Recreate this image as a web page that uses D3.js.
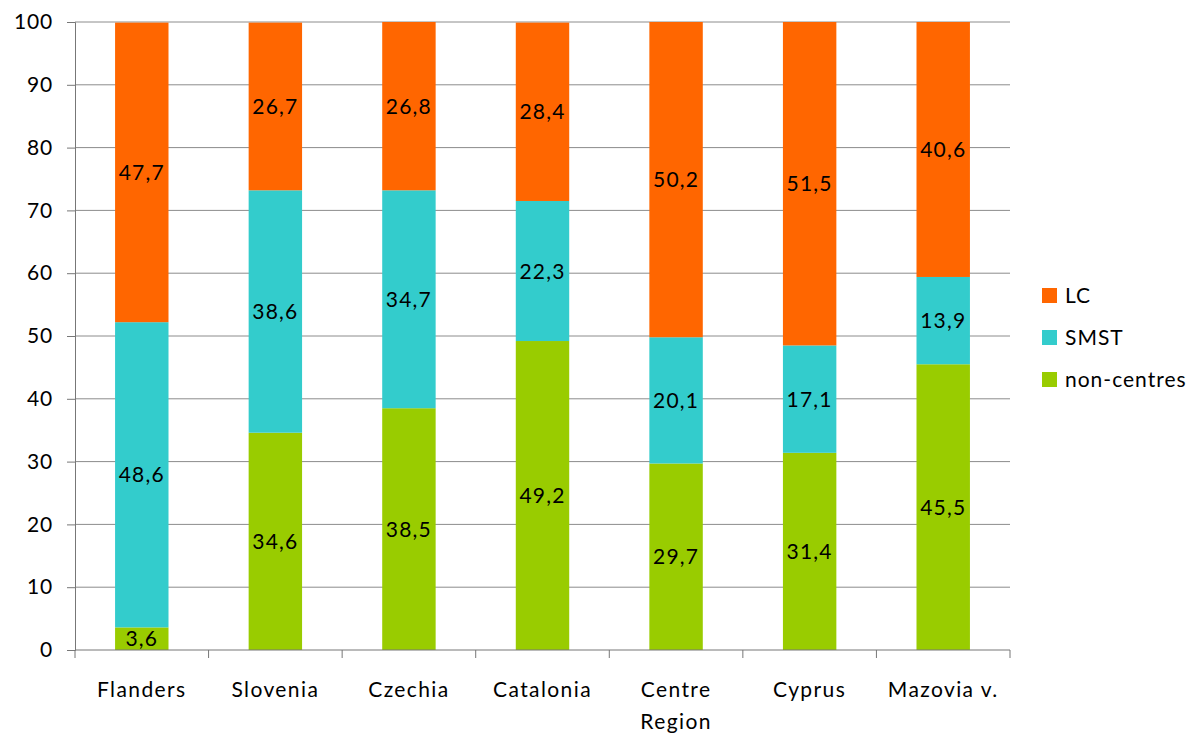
<!DOCTYPE html>
<html>
<head>
<meta charset="utf-8">
<script src="https://cdn.jsdelivr.net/npm/d3@7"></script>
<style>
  html, body { margin: 0; padding: 0; background: #fff; }
  svg { display: block; font-family: Lato, "Open Sans", sans-serif; }
</style>
</head>
<body>
<svg id="chart" width="1194" height="734"></svg>
<script>
// Regions and shares of each settlement type (percent)
const regions = ["Flanders", "Slovenia", "Czechia", "Catalonia", "Centre Region", "Cyprus", "Mazovia v."];
const nonCentres = [3.6, 34.6, 38.5, 49.2, 29.7, 31.4, 45.5];
const smst = [48.6, 38.6, 34.7, 22.3, 20.1, 17.1, 13.9];
const lc = [47.7, 26.7, 26.8, 28.4, 50.2, 51.5, 40.6];
const seriesNames = ["non-centres", "SMST", "LC"];
const seriesColors = ["#99CC00", "#33CCCC", "#FF6600"];
const yTicks = [0, 10, 20, 30, 40, 50, 60, 70, 80, 90, 100];

const rows = regions.map((r, i) => ({ region: r, "non-centres": nonCentres[i], "SMST": smst[i], "LC": lc[i] }));
const stacked = d3.stack().keys(seriesNames)(rows);

const svg = d3.select("#chart");
const plotLeft = 75, plotRight = 1010, plotTop = 22, plotBottom = 650;

const x = d3.scaleBand().domain(regions).range([plotLeft, plotRight]).paddingInner(0.6).paddingOuter(0.3);
const xb = d3.scaleBand().domain(regions).range([plotLeft, plotRight]);
const y = d3.scaleLinear().domain([0, 100]).range([plotBottom, plotTop]);
const color = d3.scaleOrdinal().domain(seriesNames).range(seriesColors);

// Horizontal gridlines
svg.append("g").selectAll("line").data(yTicks.filter(t => t > 0)).join("line")
  .attr("x1", plotLeft).attr("x2", plotRight)
  .attr("y1", d => y(d)).attr("y2", d => y(d))
  .attr("stroke", "#8c8c8c").attr("stroke-width", 1);

// Stacked bars
const layers = svg.append("g").selectAll("g").data(stacked).join("g")
  .attr("fill", d => color(d.key));
layers.selectAll("rect").data(d => d).join("rect")
  .attr("x", d => x(d.data.region))
  .attr("width", x.bandwidth())
  .attr("y", d => y(d[1]))
  .attr("height", d => y(d[0]) - y(d[1]));

// Value labels inside segments
const labels = svg.append("g").attr("font-size", 21).attr("fill", "#000").attr("text-anchor", "middle");
stacked.forEach(s => {
  labels.selectAll(null).data(s).join("text")
    .attr("x", d => x(d.data.region) + x.bandwidth() / 2)
    .attr("y", d => (y(d[0]) + y(d[1])) / 2)
    .attr("dy", "0.36em")
    .attr("letter-spacing", "1.2px")
    .text(d => d3.format(".1f")(d.data[s.key]).replace(".", ","));
});

// Y axis
const yAxis = d3.axisLeft(y).tickValues(yTicks).tickSize(8).tickPadding(14);
const gy = svg.append("g").attr("transform", `translate(${plotLeft},0)`).call(yAxis);
gy.select(".domain").attr("stroke", "#777");
gy.selectAll(".tick line").attr("stroke", "#777");
gy.selectAll(".tick text").attr("font-size", 21).attr("fill", "#000").attr("font-family", "Lato, sans-serif").attr("letter-spacing", "0.8px");

// X axis with ticks at category boundaries
const gx = svg.append("g").attr("transform", `translate(0,${plotBottom})`);
gx.append("line").attr("x1", plotLeft).attr("x2", plotRight).attr("stroke", "#777");
const bounds = regions.map(r => xb(r)).concat([plotRight]);
gx.selectAll("line.tk").data(bounds).join("line").attr("class", "tk")
  .attr("x1", d => d).attr("x2", d => d).attr("y1", 0).attr("y2", 8).attr("stroke", "#777");
const xl = gx.selectAll("text").data(regions).join("text")
  .attr("x", d => xb(d) + xb.bandwidth() / 2)
  .attr("y", 47)
  .attr("text-anchor", "middle")
  .attr("font-size", 21)
  .attr("letter-spacing", "1.4px")
  .attr("fill", "#000");
xl.each(function(d) {
  const t = d3.select(this);
  const words = d === "Centre Region" ? ["Centre", "Region"] : [d];
  words.forEach((w, i) => {
    t.append("tspan").attr("x", xb(d) + xb.bandwidth() / 2).attr("dy", i === 0 ? 0 : 32).text(w);
  });
});

// Legend
const legendItems = seriesNames.slice().reverse();
const lg = svg.append("g").attr("transform", "translate(1042,288)");
const li = lg.selectAll("g").data(legendItems).join("g")
  .attr("transform", (d, i) => `translate(0,${i * 42})`);
li.append("rect").attr("width", 15).attr("height", 15).attr("fill", d => color(d));
li.append("text").attr("x", 23).attr("y", 7.5).attr("dy", "0.36em")
  .attr("font-size", 21).attr("letter-spacing", "1px").attr("fill", "#000").text(d => d);
</script>
</body>
</html>
